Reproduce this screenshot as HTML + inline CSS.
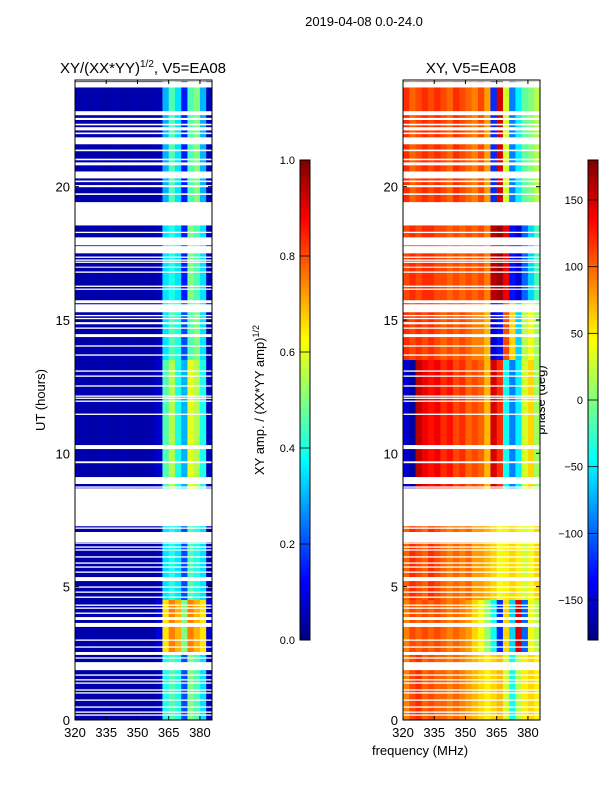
<!DOCTYPE html>
<html><head><meta charset="utf-8"><style>
body{margin:0;background:#fff;}
svg{display:block;font-family:"Liberation Sans","DejaVu Sans",sans-serif;}
</style></head><body>
<svg id="fig" width="600" height="800" viewBox="0 0 600 800" xmlns="http://www.w3.org/2000/svg">
<rect width="600" height="800" fill="#fff"/>
<text x="364" y="26" font-size="13" text-anchor="middle">2019-04-08 0.0-24.0</text>
<text x="143" y="73" font-size="15" text-anchor="middle">XY/(XX*YY)<tspan font-size="10" dy="-6">1/2</tspan><tspan dy="6">, V5=EA08</tspan></text>
<text x="471" y="73" font-size="15" text-anchor="middle">XY, V5=EA08</text>
<text transform="translate(45,400) rotate(-90)" font-size="13" text-anchor="middle">UT (hours)</text>
<text x="420" y="755" font-size="13" text-anchor="middle">frequency (MHz)</text>
<text transform="translate(264,400) rotate(-90)" font-size="13" text-anchor="middle">XY amp. / (XX*YY amp)<tspan font-size="9" dy="-5">1/2</tspan></text>
<text transform="translate(545,400) rotate(-90)" font-size="13" text-anchor="middle">phase (deg)</text>
<g id="left"></g>
<g id="right"></g>
<g id="cb1"></g>
<g id="cb2"></g>
</svg>
<script>
// frequency bins (MHz lower edges, 3 MHz wide)
const freqEdges = [320,323,326,329,332,335,338,341,344,347,350,353,356,359,362,365,368,371,374,377,380,383,386];
// time bands [startHour, endHour]
const bands = [[19.4,24],[15.7,18.55],[13.5,15.7],[8.7,13.5],[4.5,7.27],[2.5,4.5],[0,2.5]];
// amplitude per band per frequency bin
const ampValues = [
 [0.04,0.05,0.04,0.05,0.04,0.04,0.05,0.04,0.04,0.05,0.04,0.04,0.05,0.05,0.3,0.45,0.35,0.15,0.45,0.5,0.3,0.05],
 [0.04,0.04,0.05,0.04,0.04,0.05,0.04,0.04,0.04,0.04,0.04,0.05,0.04,0.06,0.35,0.4,0.35,0.15,0.5,0.45,0.35,0.05],
 [0.04,0.04,0.04,0.05,0.04,0.04,0.04,0.04,0.05,0.04,0.04,0.04,0.04,0.06,0.35,0.45,0.4,0.2,0.45,0.5,0.35,0.05],
 [0.04,0.05,0.04,0.04,0.05,0.04,0.04,0.05,0.04,0.04,0.04,0.04,0.05,0.08,0.45,0.55,0.4,0.3,0.6,0.55,0.4,0.06],
 [0.04,0.04,0.04,0.04,0.04,0.04,0.04,0.04,0.04,0.04,0.04,0.04,0.04,0.06,0.35,0.4,0.35,0.2,0.45,0.4,0.35,0.05],
 [0.04,0.04,0.05,0.04,0.04,0.04,0.04,0.04,0.04,0.04,0.04,0.04,0.04,0.1,0.65,0.75,0.7,0.5,0.75,0.7,0.65,0.08],
 [0.04,0.04,0.04,0.04,0.04,0.04,0.04,0.04,0.04,0.04,0.04,0.04,0.04,0.06,0.4,0.45,0.4,0.2,0.5,0.45,0.35,0.05]
];
// phase (deg) per band per frequency bin
const phaseValues = [
 [120,100,110,120,110,120,110,100,120,110,100,90,110,80,-120,150,30,-90,-50,-10,0,20],
 [110,120,110,120,120,110,110,100,110,100,110,100,110,90,160,170,140,-130,-150,-100,-60,-20],
 [120,110,120,110,120,110,100,110,100,110,100,90,90,70,-150,-130,110,60,-60,20,40,10],
 [-150,-170,160,140,130,140,120,130,110,120,100,110,100,70,150,120,-40,-90,-50,30,60,10],
 [100,120,110,100,120,110,100,90,100,90,100,80,80,70,60,40,50,60,50,30,40,60],
 [90,110,100,110,100,110,100,90,100,90,80,60,40,10,-40,-120,60,-60,150,-100,40,20],
 [90,110,120,100,110,100,100,90,100,90,80,70,60,50,60,70,30,-40,20,50,60,50]
];
// flagged (no data) time intervals, hours
const gaps = [[23.95,24],[23.72,23.92],[22.68,22.83],[22.5,22.58],[22.3,22.36],[22.11,22.23],[21.97,22.03],[21.59,21.85],[21.33,21.39],[20.99,21.05],[20.8,20.91],[20.31,20.57],[20.17,20.23],[19.98,20.06],[19.69,19.75],[18.55,19.42],[18.26,18.31],[17.8,18.1],[17.5,17.77],[17.33,17.38],[17.22,17.27],[17.14,17.19],[16.96,17.0],[16.77,16.82],[16.24,16.29],[16.13,16.18],[15.63,15.74],[15.29,15.59],[15.14,15.19],[15.03,15.08],[14.84,14.92],[14.67,14.72],[14.36,14.47],[14.0,14.05],[13.66,13.71],[13.06,13.11],[12.87,12.92],[12.5,12.55],[12.12,12.17],[12.04,12.09],[11.93,11.98],[11.44,11.49],[10.16,10.31],[9.63,9.7],[8.85,9.11],[8.71,8.76],[8.6,8.65],[7.27,8.47],[7.17,7.22],[6.67,7.05],[6.61,6.66],[6.46,6.51],[6.35,6.4],[6.09,6.14],[5.86,5.91],[5.71,5.76],[5.52,5.57],[5.21,5.36],[4.96,5.01],[4.77,4.82],[4.58,4.63],[4.28,4.33],[4.17,4.22],[3.98,4.03],[3.75,3.86],[3.49,3.64],[2.97,3.02],[2.71,2.76],[2.44,2.55],[2.3,2.35],[1.87,2.17],[1.66,1.71],[1.48,1.53],[1.36,1.41],[1.1,1.15],[0.99,1.04],[0.72,0.77],[0.46,0.51],[0.27,0.32],[0.16,0.21]];
const xTicks = [320,335,350,365,380];
const yTicks = [0,5,10,15,20];
const ampTicks = [0.0,0.2,0.4,0.6,0.8,1.0];
const phaseTicks = [-150,-100,-50,0,50,100,150];

const NS='http://www.w3.org/2000/svg';
function mk(tag,attrs,parent){const e=document.createElementNS(NS,tag);for(const k in attrs)e.setAttribute(k,attrs[k]);parent.appendChild(e);return e;}
function jet(t){t=Math.max(0,Math.min(1,t));
 const r=Math.max(0,Math.min(1,1.5-Math.abs(4*t-3)));
 const g=Math.max(0,Math.min(1,1.5-Math.abs(4*t-2)));
 const b=Math.max(0,Math.min(1,1.5-Math.abs(4*t-1)));
 return `rgb(${Math.round(r*255)},${Math.round(g*255)},${Math.round(b*255)})`;}
const Y0=720,Y1=80,XMIN=320,XMAX=385.8;
function yS(h){return Y0-(h/24)*(Y0-Y1);}
function panel(g,x0,x1,vals,norm){
 const xS=f=>x0+(f-XMIN)/(XMAX-XMIN)*(x1-x0);
 bands.forEach((b,bi)=>{
  for(let i=0;i<freqEdges.length-1;i++){
   const xa=xS(freqEdges[i]),xb=Math.min(xS(freqEdges[i+1]),x1);
   const r=mk('rect',{x:xa,y:yS(b[1]),width:xb-xa+0.3,height:yS(b[0])-yS(b[1])+0.3,fill:jet(norm(vals[bi][i]))},g);
   
   
  }
 });
 gaps.forEach(gp=>{
  const r=mk('rect',{x:x0,y:yS(gp[1]),width:x1-x0,height:Math.max(1,yS(gp[0])-yS(gp[1])),fill:'#fff'},g);
  
  
 });
 mk('rect',{x:x0,y:Y1,width:x1-x0,height:Y0-Y1,fill:'none',stroke:'#000','stroke-width':1},g);
 xTicks.forEach(t=>{const x=xS(t);
  mk('line',{x1:x,x2:x,y1:Y0,y2:Y0-4,stroke:'#000'},g);
  mk('line',{x1:x,x2:x,y1:Y1,y2:Y1+4,stroke:'#000'},g);
  const tx=mk('text',{x:x,y:Y0+17,'font-size':13,'text-anchor':'middle'},g);tx.textContent=t;
  
  });
 yTicks.forEach(t=>{const y=yS(t);
  mk('line',{x1:x0,x2:x0+4,y1:y,y2:y,stroke:'#000'},g);
  mk('line',{x1:x1,x2:x1-4,y1:y,y2:y,stroke:'#000'},g);
  const tx=mk('text',{x:x0-5,y:y+5,'font-size':13,'text-anchor':'end'},g);tx.textContent=t;
  
  });
}
panel(document.getElementById('left'),75,212,ampValues,v=>v);
panel(document.getElementById('right'),403,540,phaseValues,v=>(v+180)/360);
function cbar(g,x,ticks,lo,hi,fmt){
 const top=160,bot=640,n=120;
 for(let i=0;i<n;i++){
  const y=bot-(i+1)*(bot-top)/n;
  mk('rect',{x:x,y:y,width:10,height:(bot-top)/n+0.5,fill:jet((i+0.5)/n)},g);
 }
 mk('rect',{x:x,y:top,width:10,height:bot-top,fill:'none',stroke:'#000'},g);
 ticks.forEach(t=>{const y=bot-(t-lo)/(hi-lo)*(bot-top);
  mk('line',{x1:x,x2:x+10,y1:y,y2:y,stroke:'#000','stroke-width':0.8},g);
  const tx=mk('text',{x:x-5,y:y+4,'font-size':11,'text-anchor':'end'},g);tx.textContent=fmt(t);
  
  });
}
cbar(document.getElementById('cb1'),300,ampTicks,0,1,t=>t.toFixed(1));
cbar(document.getElementById('cb2'),588,phaseTicks,-180,180,t=>t<0?'\u2212'+(-t):''+t);
</script>
</body></html>
